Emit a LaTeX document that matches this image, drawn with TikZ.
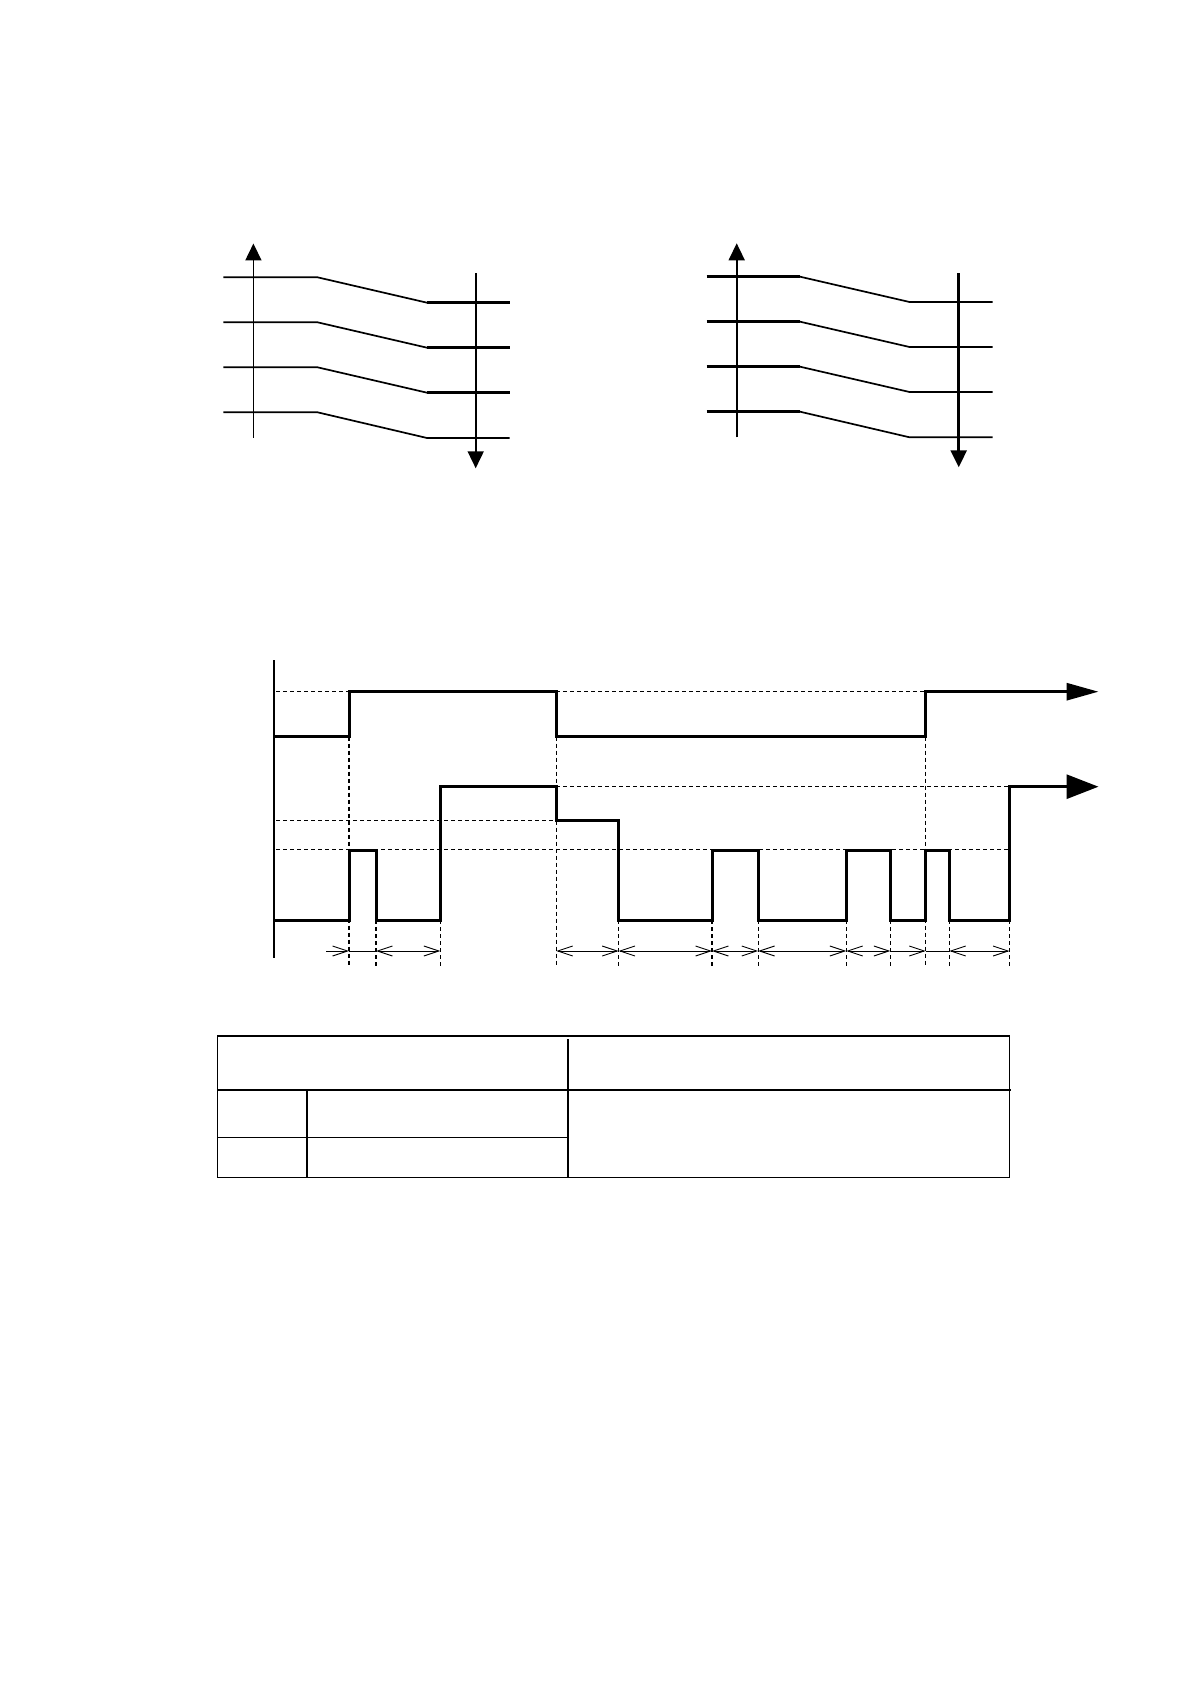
\documentclass[tikz,border=0pt]{standalone}
\usetikzlibrary{arrows.meta}
\begin{document}
\begin{tikzpicture}[x=0.5pt,y=-0.5pt,line width=0.85pt,
            sig/.style={line width=1.5pt},
            grid/.style={line width=0.6pt,dash pattern=on 2pt off 1.5pt},
            dimline/.style={line width=0.45pt},
            barb/.tip={Straight Barb[length=7.5pt,width=5pt]},
            >={Triangle[length=8.5pt,width=8pt]}]
            \useasboundingbox(0,0)rectangle(1191,1684);
            % left sketch
            \draw[->](253.4,438)--(253.4,243.5);
            \draw[->](475.7,273.5)--(475.7,468.3);
            \draw(223.4,277.3)--(317.5,277.3)--(427,302.7);\draw[sig](427,302.7)--(509.5,302.7);
            \draw(223.4,322.3)--(317.5,322.3)--(427,347.7);\draw[sig](427,347.7)--(509.5,347.7);
            \draw(223.4,367.3)--(317.5,367.3)--(427,392.7);\draw[sig](427,392.7)--(509.5,392.7);
            \draw(223.4,412.3)--(317.5,412.3)--(427,438)--(509.5,438);
            % right sketch
            \draw[->](736.7,437.3)--(736.7,243.3);
            \draw[->,line width=1.25pt](958.7,273.3)--(958.7,467.3);
            \draw[sig](706.6,276.7)--(800,276.7);\draw(800,276.7)--(909.5,302)--(992.5,302);
            \draw[sig](706.6,321.7)--(800,321.7);\draw(800,321.7)--(909.5,347)--(992.5,347);
            \draw[sig](706.6,366.7)--(800,366.7);\draw(800,366.7)--(909.5,392)--(992.5,392);
            \draw[sig](706.6,411.7)--(800,411.7);\draw(800,411.7)--(909.5,437.3)--(992.5,437.3);
            % timing
            \draw[line width=1pt](273.8,660)--(273.8,958);
            \draw[grid](276,691.7)--(925.7,691.7);
            \draw[grid](556.3,786.7)--(1009.5,786.7);
            \draw[grid](276,820.3)--(556.3,820.3);
            \draw[grid](276,849.3)--(1009.5,849.3);
            \foreach \x in {349,556.3,925.7} \draw[grid](\x,736.7)--(\x,967);
            \foreach \x in {376,440.3,618.6,712,758.2,846.3,890.3,949.3,1009.5} \draw[grid](\x,920.3)--(\x,967);
            \draw[sig,-{Triangle[length=16pt,width=8.5pt]}](273.8,736.7)-|(349,691.7)-|(556.3,736.7)-|(925.7,691.7)--(1098.5,691.7);
            \draw[sig,-{Triangle[length=16pt,width=12pt]}](273.8,920.3)-|(349,850.7)-|(376,920.3)-|(440.3,786.7)-|(556.3,820.3)
              -|(618.6,920.3)-|(712,850.7)-|(758.2,920.3)-|(846.3,850.7)-|(890.3,920.3)-|(925.7,850.7)-|(949.3,920.3)
              -|(1009.5,786.7)--(1098.5,786.7);
            \draw[dimline,-barb](326,951)--(349,951);
            \draw[dimline](349,951)--(376,951);
            \draw[dimline,barb-barb](376,951)--(440.3,951);
            \draw[dimline,barb-barb](556.3,951)--(618.6,951);
            \draw[dimline,barb-barb](618.6,951)--(712,951);
            \draw[dimline,barb-barb](712,951)--(758.2,951);
            \draw[dimline,barb-barb](758.2,951)--(846.3,951);
            \draw[dimline,barb-barb](846.3,951)--(890.3,951);
            \draw[dimline,-barb](890.3,951)--(925.7,951);
            \draw[dimline](925.7,951)--(949.3,951);
            \draw[dimline,barb-barb](949.3,951)--(1009.5,951);
            % table
            \draw(217.5,1036)rectangle(1009.5,1177.5);
            \draw[line width=1.15pt](217.5,1090)--(1010.5,1090);
            \draw[line width=1pt](567.7,1039)--(567.7,1177.5);
            \draw[line width=1pt](306.7,1090)--(306.7,1177.5);
            \draw[line width=0.65pt](217.5,1137.3)--(567.7,1137.3);
          \end{tikzpicture}
\end{document}
